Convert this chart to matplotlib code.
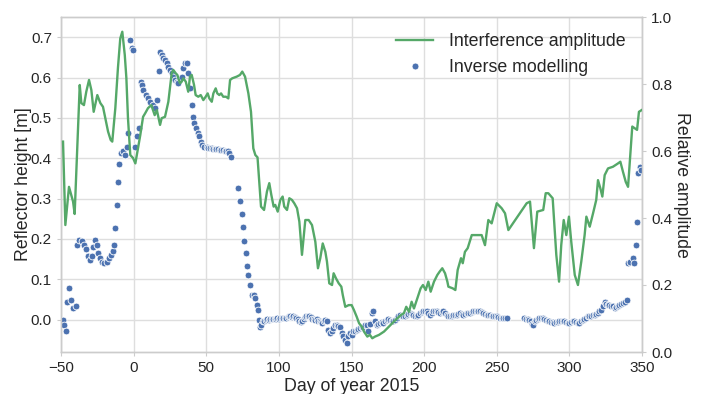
import matplotlib
matplotlib.use("Agg")
import matplotlib.pyplot as plt
from matplotlib.lines import Line2D

plt.rcParams['font.family'] = ['Liberation Sans', 'DejaVu Sans']

# Interference amplitude (right axis)
amp_days = [-48.6, -47.0, -44.5, -41.7, -40.6, -37.1, -36.0, -34.2, -32.6, -30.7, -29.1, -27.5, -25.0,
            -22.9, -21.1, -19.9, -17.6, -15.8, -14.7, -12.6, -10.8, -9.2, -7.8, -6.1, -5.0, -3.9, -2.3,
            -0.4, 1.2, 3.0, 4.6, 6.5, 8.0, 9.9, 12.2, 14.5, 16.0, 18.2, 19.3, 21.6, 23.9, 26.2, 27.3, 29.0,
            30.1, 31.9, 33.1, 34.2, 35.9, 37.6, 38.8, 40.0, 41.6, 42.7, 44.5, 46.2, 48.0, 49.6, 51.0,
            52.1, 53.8, 54.9, 56.5, 57.6, 59.0, 60.2, 61.7, 63.6, 65.2, 66.4, 67.9, 71.0, 73.2, 74.8,
            76.7, 79.0, 80.8, 82.4, 83.8, 85.3, 87.7, 89.8, 91.8, 93.4, 94.8, 96.4, 97.5, 99.2, 101.0,
            102.6, 103.7, 105.6, 107.2, 109.0, 110.6, 112.5, 114.1, 115.9, 118.2, 120.5, 122.8, 125.1,
            126.9, 128.5, 130.2, 132.0, 133.1, 134.7, 136.6, 137.7, 139.3, 141.2, 143.0, 144.0, 145.7,
            148.1, 150.1, 151.7, 153.6, 155.2, 157.2, 158.6, 160.9, 162.7, 164.3, 166.2, 168.9, 172.4,
            175.8, 180.4, 183.9, 186.1, 187.7, 189.6, 191.4, 193.0, 195.3, 197.6, 199.2, 201.1, 202.9,
            204.5, 206.8, 209.1, 210.7, 212.5, 214.4, 216.0, 216.7, 219.7, 221.5, 223.1, 225.4, 226.6,
            228.1, 230.0, 232.8, 236.2, 239.6, 241.9, 244.2, 246.5, 250.0, 253.4, 255.7, 258.0, 270.6,
            272.9, 275.6, 277.9, 282.0, 283.7, 285.5, 288.5, 291.0, 292.9, 294.4, 296.1, 297.9, 299.7,
            301.3, 303.7, 305.9, 308.2, 310.5, 311.7, 314.0, 316.3, 318.5, 319.7, 321.3, 322.7, 324.3,
            326.6, 330.0, 333.5, 335.1, 336.9, 338.8, 340.4, 341.9, 343.3, 345.0, 346.6, 347.9, 349.7]
amp_vals = [0.628, 0.379, 0.493, 0.449, 0.412, 0.797, 0.743, 0.737, 0.777, 0.812, 0.782, 0.717, 0.767,
            0.743, 0.732, 0.707, 0.658, 0.633, 0.628, 0.728, 0.848, 0.936, 0.956, 0.887, 0.818, 0.699, 0.588,
            0.579, 0.563, 0.609, 0.648, 0.702, 0.713, 0.728, 0.737, 0.707, 0.722, 0.678, 0.698, 0.702, 0.747,
            0.832, 0.842, 0.832, 0.827, 0.802, 0.807, 0.817, 0.807, 0.777, 0.822, 0.827, 0.797, 0.767, 0.762,
            0.767, 0.752, 0.762, 0.772, 0.757, 0.747, 0.772, 0.787, 0.772, 0.767, 0.772, 0.762, 0.762, 0.757,
            0.812, 0.817, 0.822, 0.827, 0.837, 0.822, 0.772, 0.717, 0.608, 0.588, 0.581, 0.434, 0.424, 0.479,
            0.504, 0.469, 0.434, 0.439, 0.419, 0.454, 0.464, 0.434, 0.424, 0.459, 0.454, 0.444, 0.429, 0.389,
            0.290, 0.394, 0.394, 0.379, 0.329, 0.250, 0.280, 0.324, 0.299, 0.270, 0.205, 0.200, 0.235, 0.220,
            0.205, 0.195, 0.170, 0.135, 0.140, 0.140, 0.125, 0.105, 0.086, 0.075, 0.061, 0.046, 0.051, 0.041,
            0.046, 0.051, 0.061, 0.076, 0.096, 0.110, 0.116, 0.135, 0.120, 0.150, 0.130, 0.160, 0.190, 0.200,
            0.185, 0.210, 0.180, 0.210, 0.230, 0.240, 0.250, 0.235, 0.210, 0.195, 0.190, 0.185, 0.245, 0.280,
            0.265, 0.299, 0.310, 0.349, 0.349, 0.349, 0.319, 0.394, 0.384, 0.444, 0.429, 0.414, 0.364, 0.444,
            0.449, 0.310, 0.419, 0.424, 0.474, 0.474, 0.459, 0.290, 0.210, 0.319, 0.394, 0.349, 0.404, 0.329,
            0.230, 0.200, 0.270, 0.349, 0.404, 0.374, 0.414, 0.454, 0.513, 0.489, 0.464, 0.528, 0.548, 0.553,
            0.563, 0.568, 0.538, 0.508, 0.493, 0.588, 0.673, 0.668, 0.663, 0.717, 0.722]

# Inverse modelling (left axis)
inv_days = [-48.4, -47.7, -46.8, -45.6, -44.5, -43.0, -41.4, -39.9,
            -38.8, -37.6, -35.7, -34.2, -33.0, -31.6, -30.0, -28.9, -27.8, -26.6, -25.4, -24.3, -23.2,
            -21.6, -20.2, -18.5, -17.0, -15.6, -14.4, -13.5, -12.8, -11.7, -10.6, -9.9, -8.7, -7.1, -5.9,
            -4.8, -3.7, -2.5, -1.0, -0.4,
            0.9, 2.5, 3.7, 4.9, 5.8, 6.7, 8.3, 9.7, 11.3, 13.1, 14.7, 15.9, 17.5, 18.2, 19.3, 20.4, 21.6,
            22.8, 23.9, 25.0, 26.2, 27.3, 28.5, 29.7, 30.8, 31.9, 33.1, 34.2, 35.4, 36.5, 37.6, 38.8, 40.0,
            40.9, 41.8, 42.9, 44.1, 45.2, 46.2, 47.3, 48.5,
            50.3, 51.4, 52.5, 53.7, 54.8, 55.9, 57.0, 58.2, 59.3, 60.4, 61.5, 62.7, 63.8, 64.9, 66.0, 67.2,
            72.1, 73.2, 74.4, 75.1, 76.0, 77.2, 78.3, 79.0, 80.1, 81.3, 82.7, 83.8, 84.9, 85.7, 86.2, 87.2,
            88.0,
            89, 90, 91, 92, 93, 94, 95, 96, 97, 98, 99, 100, 101, 102, 103, 104, 105, 106, 107, 108, 109,
            110, 111, 112, 113, 114, 115, 116, 117, 118, 119, 120, 121, 122, 123, 124, 125, 126, 127, 128,
            129, 130, 131, 132, 133,
            134.0, 135.2, 136.3, 137.5, 138.6, 139.8, 141.0, 142.1, 143.3, 144.4, 145.5, 146.7, 147.8,
            149.0, 150.1, 151.2, 152.4, 153.6, 154.7, 155.9, 157.0, 158.2, 159.3, 160.5, 161.6, 162.8,
            163.9, 165.0, 166.2, 167.4, 168.5, 169.6, 170.8, 171.9, 173.0, 174.2, 175.3, 176.5, 177.6,
            178.8, 180.0, 181.1, 182.3, 183.4, 184.6, 185.7, 186.9, 188.0, 189.2, 190.3, 191.4, 192.5,
            193.7, 194.9, 196.0, 197.2, 198.3, 199.4, 200.6, 201.8, 202.9, 204.0, 205.2, 206.3, 207.5,
            208.7, 209.8, 210.9, 212.1, 213.2, 214.4, 215.5, 216.7, 217.8, 219.0, 220.1, 221.3, 222.4,
            223.6, 224.7, 225.9, 227.0, 228.2, 229.3, 230.5, 231.6, 232.8, 233.9, 235.1, 236.2, 237.4,
            238.5, 239.6, 240.6, 241.9, 243.1, 244.3, 245.4, 246.5, 247.6, 248.8, 250.0, 251.1, 252.2,
            253.3, 254.3, 255.6, 256.9,
            269.0, 270.1, 271.3, 272.4, 273.6, 274.5, 275.2, 276.1, 277.0, 278.2, 279.3, 280.5, 281.6,
            282.8, 283.9, 285.1, 286.2, 287.4, 288.5, 289.7, 290.8, 292.0, 293.1, 294.3, 295.4, 296.6,
            297.7, 298.9, 300.0, 301.2, 302.3, 303.5, 304.6, 305.8, 306.9, 308.1, 309.2, 310.4, 311.5,
            312.7, 313.8, 315.0, 316.1, 317.3, 318.4, 319.6, 320.7, 321.9, 323.0, 324.2, 325.3, 326.5,
            327.6, 328.8, 329.9, 331.1, 332.2, 333.4, 334.5, 335.7, 336.8, 338.0, 339.5,
            340.6, 341.7, 343.6, 344.5, 345.7, 346.4, 347.5, 348.6, 349.3]
inv_vals = [0.000, -0.012, -0.029, 0.045, 0.078, 0.050, 0.030, 0.033,
            0.186, 0.198, 0.194, 0.186, 0.175, 0.157, 0.149, 0.157, 0.181, 0.198, 0.186, 0.165, 0.153,
            0.144, 0.140, 0.144, 0.153, 0.161, 0.169, 0.186, 0.227, 0.285, 0.342, 0.385, 0.413, 0.417, 0.408,
            0.429, 0.462, 0.693, 0.672, 0.668,
            0.429, 0.454, 0.475, 0.590, 0.582, 0.569, 0.557, 0.549, 0.540, 0.532, 0.524, 0.545, 0.615, 0.664,
            0.656, 0.648, 0.644, 0.635, 0.627, 0.619, 0.612, 0.602, 0.594, 0.590, 0.586, 0.598, 0.602, 0.623,
            0.635, 0.635, 0.611, 0.574, 0.532, 0.503, 0.487, 0.475, 0.462, 0.454, 0.441, 0.433, 0.429,
            0.427, 0.426, 0.426, 0.425, 0.424, 0.423, 0.423, 0.422, 0.421, 0.421, 0.420, 0.419, 0.418, 0.417,
            0.412, 0.404,
            0.326, 0.293, 0.262, 0.229, 0.196, 0.165, 0.132, 0.110, 0.087, 0.060, 0.060, 0.053, 0.037, 0.025,
            0.000, -0.017, -0.012,
            -0.003, -0.002, 0.000, 0.001, 0.000, 0.001, 0.002, 0.002, 0.003, 0.002, 0.004, 0.003, 0.005,
            0.004, 0.005, 0.005, 0.004, 0.006, 0.008, 0.008, 0.007, 0.008, 0.006, 0.004, 0.001, -0.003,
            -0.006, -0.004, 0.002, 0.007, 0.008, 0.009, 0.008, 0.006, 0.003, 0.001, 0.000, 0.001, -0.002,
            -0.004, -0.006, -0.008, -0.004, 0.000, -0.003,
            -0.025, -0.033, -0.028, -0.021, -0.014, -0.012, -0.015, -0.017, -0.033, -0.041, -0.050, -0.058,
            -0.041, -0.033, -0.037, -0.029, -0.027, -0.025, -0.023, -0.021, -0.019, -0.017, -0.014, -0.012,
            -0.029, -0.010, 0.017, 0.021, -0.004, -0.012, -0.010, -0.008, -0.006, -0.008, -0.004, 0.000,
            0.002, 0.000, -0.002, -0.004, 0.000, 0.004, 0.008, 0.012, 0.010, 0.008, 0.010, 0.012, 0.015,
            0.017, 0.015, 0.012, 0.010, 0.008, 0.012, 0.017, 0.019, 0.021, 0.021, 0.021, 0.017, 0.012, 0.017,
            0.021, 0.021, 0.021, 0.019, 0.017, 0.019, 0.021, 0.017, 0.012, 0.010, 0.008, 0.010, 0.012, 0.012,
            0.012, 0.015, 0.017, 0.015, 0.012, 0.015, 0.017, 0.017, 0.017, 0.019, 0.021, 0.021, 0.021, 0.021,
            0.021, 0.019, 0.017, 0.015, 0.012, 0.012, 0.012, 0.010, 0.008, 0.008, 0.008, 0.006, 0.004, 0.004,
            0.004, 0.004, 0.004,
            0.004, 0.003, 0.002, -0.001, -0.004, -0.010, -0.012, -0.004, 0.000, 0.003, 0.004, 0.004, 0.004,
            0.002, 0.000, -0.002, -0.004, -0.006, -0.006, -0.008, -0.006, -0.005, -0.004, -0.004, -0.004,
            -0.004, -0.006, -0.008, -0.008, -0.006, -0.004, -0.004, -0.006, -0.008, -0.008, -0.004, 0.000,
            0.002, 0.004, 0.008, 0.008, 0.010, 0.012, 0.012, 0.015, 0.017, 0.021, 0.025, 0.033, 0.045, 0.040,
            0.037, 0.037, 0.035, 0.033, 0.029, 0.031, 0.035, 0.037, 0.040, 0.042, 0.045, 0.050,
            0.140, 0.144, 0.153, 0.140, 0.186, 0.243, 0.363, 0.379, 0.371]

x_ticks = [-50, 0, 50, 100, 150, 200, 250, 300, 350]
left_ticks = [0.0, 0.1, 0.2, 0.3, 0.4, 0.5, 0.6, 0.7]
right_ticks = [0.0, 0.2, 0.4, 0.6, 0.8, 1.0]

green = '#55A868'
blue = '#4C72B0'
txt = '#262626'
spine_c = '#cccccc'

fig = plt.figure(figsize=(7.05, 3.94), dpi=100)
ax = fig.add_axes([61/705, 42/394, 581/705, 335/394])
ax2 = ax.twinx()

ax.scatter(inv_days, inv_vals, s=24, color=blue, edgecolor='white', linewidth=0.6, zorder=3)
ax2.plot(amp_days, amp_vals, color=green, lw=1.7, zorder=3)

ax.set_xlim(-50, 350)
ax.set_ylim(-0.08, 0.75)
ax2.set_ylim(0, 1.0)
ax.set_xticks(x_ticks)
ax.set_yticks(left_ticks)
ax2.set_yticks(right_ticks)
ax.set_xticklabels([f"{t}".replace('-', '\u2212') for t in x_ticks])
ax.set_yticklabels([f"{t:.1f}" for t in left_ticks])
ax2.set_yticklabels([f"{t:.1f}" for t in right_ticks])

ax.grid(True, color='#dedede', lw=1.0, zorder=0)
ax.set_axisbelow(True)
ax2.grid(False)
for a in (ax, ax2):
    for s in a.spines.values():
        s.set_color(spine_c)
        s.set_linewidth(1.0)
    a.tick_params(colors=txt, labelsize=11, length=3, width=0.8)
    a.tick_params(axis='both', color=spine_c)

ax.set_xlabel("Day of year 2015", fontsize=12.8, color=txt, labelpad=2)
ax.set_ylabel("Reflector height [m]", fontsize=12.8, color=txt, labelpad=-1)
ax2.set_ylabel("Relative amplitude", fontsize=12.8, color=txt, rotation=270, labelpad=13)

h1 = Line2D([], [], color=green, lw=1.7)
h2 = Line2D([], [], ls='none', marker='o', ms=5, color=blue, mec='white', mew=0.6)
leg = ax2.legend([h1, h2], ["Interference amplitude", "Inverse modelling"], loc='upper right',
                 frameon=False, fontsize=12.8, handlelength=2.1, handletextpad=0.9, labelspacing=0.5)
for t in leg.get_texts():
    t.set_color(txt)

fig.savefig("out.png", dpi=100)
